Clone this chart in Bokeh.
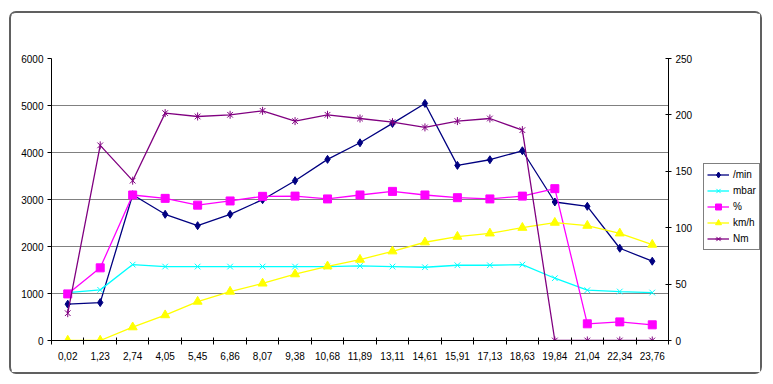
from bokeh.plotting import figure
from bokeh.layouts import row
from bokeh.models import (Range1d, LinearAxis, FixedTicker, Legend, LegendItem,
                          ColumnDataSource)
from bokeh.embed import file_html
from bokeh.resources import INLINE
import numpy as np

categories = ["0,02", "1,23", "2,74", "4,05", "5,45", "6,86", "8,07", "9,38", "10,68",
              "11,89", "13,11", "14,61", "15,91", "17,13", "18,63", "19,84", "21,04",
              "22,34", "23,76"]
rpm = [773, 807, 3100, 2685, 2443, 2685, 2996, 3400, 3854, 4207, 4619, 5044, 3726,
       3846, 4037, 2947, 2855, 1963, 1687]
mbar = [1020, 1077, 1615, 1573, 1573, 1573, 1573, 1573, 1573, 1587, 1573, 1559, 1601,
        1601, 1615, 1325, 1070, 1042, 1020]
pct = [41.3, 64.4, 129, 126, 120, 123.7, 127.8, 128, 125.5, 129, 132.2, 129, 126.6,
       125.5, 128, 134.6, 14.8, 16.5, 13.9]
kmh = [0, 0, 11.8, 22.5, 34.5, 43.4, 50.6, 58.8, 65.8, 71.7, 79.1, 87.1, 92.1, 95,
       100, 104.5, 101.8, 95, 85]
nm = [24.2, 173, 141.7, 201.6, 198.6, 200.1, 203.6, 194.5, 200.1, 196.8, 193.6, 188.9,
      194.5, 196.8, 186.5, 0, 0, 0, 0]
series_names = ["/min", "mbar", "%", "km/h", "Nm"]
left_ticks = [0, 1000, 2000, 3000, 4000, 5000, 6000]
right_ticks = [0, 50, 100, 150, 200, 250]

n = len(categories)
xc = list(np.arange(n) + 0.5)
src = ColumnDataSource(dict(x=xc, rpm=rpm, mbar=mbar, pct=pct, kmh=kmh, nm=nm))

FONT = "Liberation Sans"
H = 359
TOP = 45
p = figure(width=687, height=H, output_backend="svg", toolbar_location=None,
           x_range=Range1d(0, n), y_range=Range1d(0, 6000),
           min_border_left=40, min_border_right=30, min_border_top=TOP,
           min_border_bottom=H - TOP - 282, outline_line_color=None)
p.extra_y_ranges = {"r": Range1d(0, 250)}

p.xgrid.visible = False
p.ygrid.ticker = FixedTicker(ticks=left_ticks)
p.ygrid.grid_line_color = "#808080"
p.ygrid.grid_line_width = 1

xa = p.xaxis[0]
xa.ticker = FixedTicker(ticks=xc, minor_ticks=list(range(n + 1)))
xa.major_label_overrides = {float(x): c for x, c in zip(xc, categories)}
xa.major_tick_line_color = None
xa.major_tick_out = 0
xa.major_tick_in = 0
xa.minor_tick_in = 3
xa.minor_tick_out = 4
xa.minor_tick_line_color = "black"
xa.axis_line_color = "black"
xa.major_label_standoff = 7
xa.major_label_text_font = FONT
xa.major_label_text_font_size = "10px"
xa.major_label_text_color = "black"

ya = p.yaxis[0]
ya.ticker = FixedTicker(ticks=left_ticks)
ya.minor_tick_line_color = None
ya.major_tick_in = 0
ya.major_tick_out = 4
ya.major_label_standoff = 4
ya.major_label_text_font = FONT
ya.major_label_text_font_size = "10px"
ya.major_label_text_color = "black"
ya.axis_line_color = "black"

ra = LinearAxis(y_range_name="r", ticker=FixedTicker(ticks=right_ticks))
ra.minor_tick_line_color = None
ra.major_tick_in = 3
ra.major_tick_out = 3
ra.major_label_standoff = 4
ra.major_label_text_font = FONT
ra.major_label_text_font_size = "10px"
ra.major_label_text_color = "black"
ra.axis_line_color = "black"
p.add_layout(ra, "right")

LW = 1.3
colors = ["#000080", "#00FFFF", "#FF00FF", "#FFFF00", "#800080"]


def draw(fig, s, ycol, yr):
    kw = {} if yr is None else {"y_range_name": yr}
    c = colors[s]
    rs = [fig.line("x", ycol, source=src, color=c, line_width=LW, **kw)]
    if s == 0:
        rs.append(fig.scatter("x", ycol, source=src, marker="diamond", size=8, color=c, **kw))
    elif s == 1:
        rs.append(fig.scatter("x", ycol, source=src, marker="x", size=8, line_color=c,
                              line_width=1, **kw))
    elif s == 2:
        rs.append(fig.scatter("x", ycol, source=src, marker="square", size=8, color=c, **kw))
    elif s == 3:
        rs.append(fig.scatter("x", ycol, source=src, marker="triangle", size=9, color=c, **kw))
    else:
        rs.append(fig.scatter("x", ycol, source=src, marker="x", size=8, line_color=c,
                              line_width=1, **kw))
        rs.append(fig.scatter("x", ycol, source=src, marker="dash", size=8, angle=np.pi / 2,
                              line_color=c, line_width=1, **kw))
    return rs


draw(p, 0, "rpm", None)
draw(p, 1, "mbar", None)
draw(p, 2, "pct", "r")
draw(p, 3, "kmh", "r")
draw(p, 4, "nm", "r")

# legend panel: a narrow figure whose ranges keep the (same) series out of view
lg = figure(width=62, height=H, output_backend="svg", toolbar_location=None,
            x_axis_type=None, y_axis_type=None, min_border=0,
            outline_line_color=None, x_range=Range1d(-200, -199),
            y_range=Range1d(-20000, -19999))
lg.xgrid.visible = False
lg.ygrid.visible = False
items = []
for s, col in enumerate(["rpm", "mbar", "pct", "kmh", "nm"]):
    items.append(LegendItem(label=series_names[s], renderers=draw(lg, s, col, None)))

legend = Legend(items=items, location=(5, 90))
legend.border_line_color = "black"
legend.border_line_width = 1
legend.background_fill_color = "white"
legend.background_fill_alpha = 1
legend.label_text_font = FONT
legend.label_text_font_size = "10px"
legend.label_text_color = "black"
legend.glyph_width = 22
legend.glyph_height = 15
legend.label_height = 15
legend.spacing = 1
legend.padding = 3
legend.margin = 0
legend.label_standoff = 4
lg.add_layout(legend, "center")

layout = row(p, lg, spacing=0, margin=(11, 0, 0, 9))
layout.styles = {"border": "2px solid #606060", "border-radius": "7px"}
open("out.html", "w").write(file_html(layout, INLINE))
